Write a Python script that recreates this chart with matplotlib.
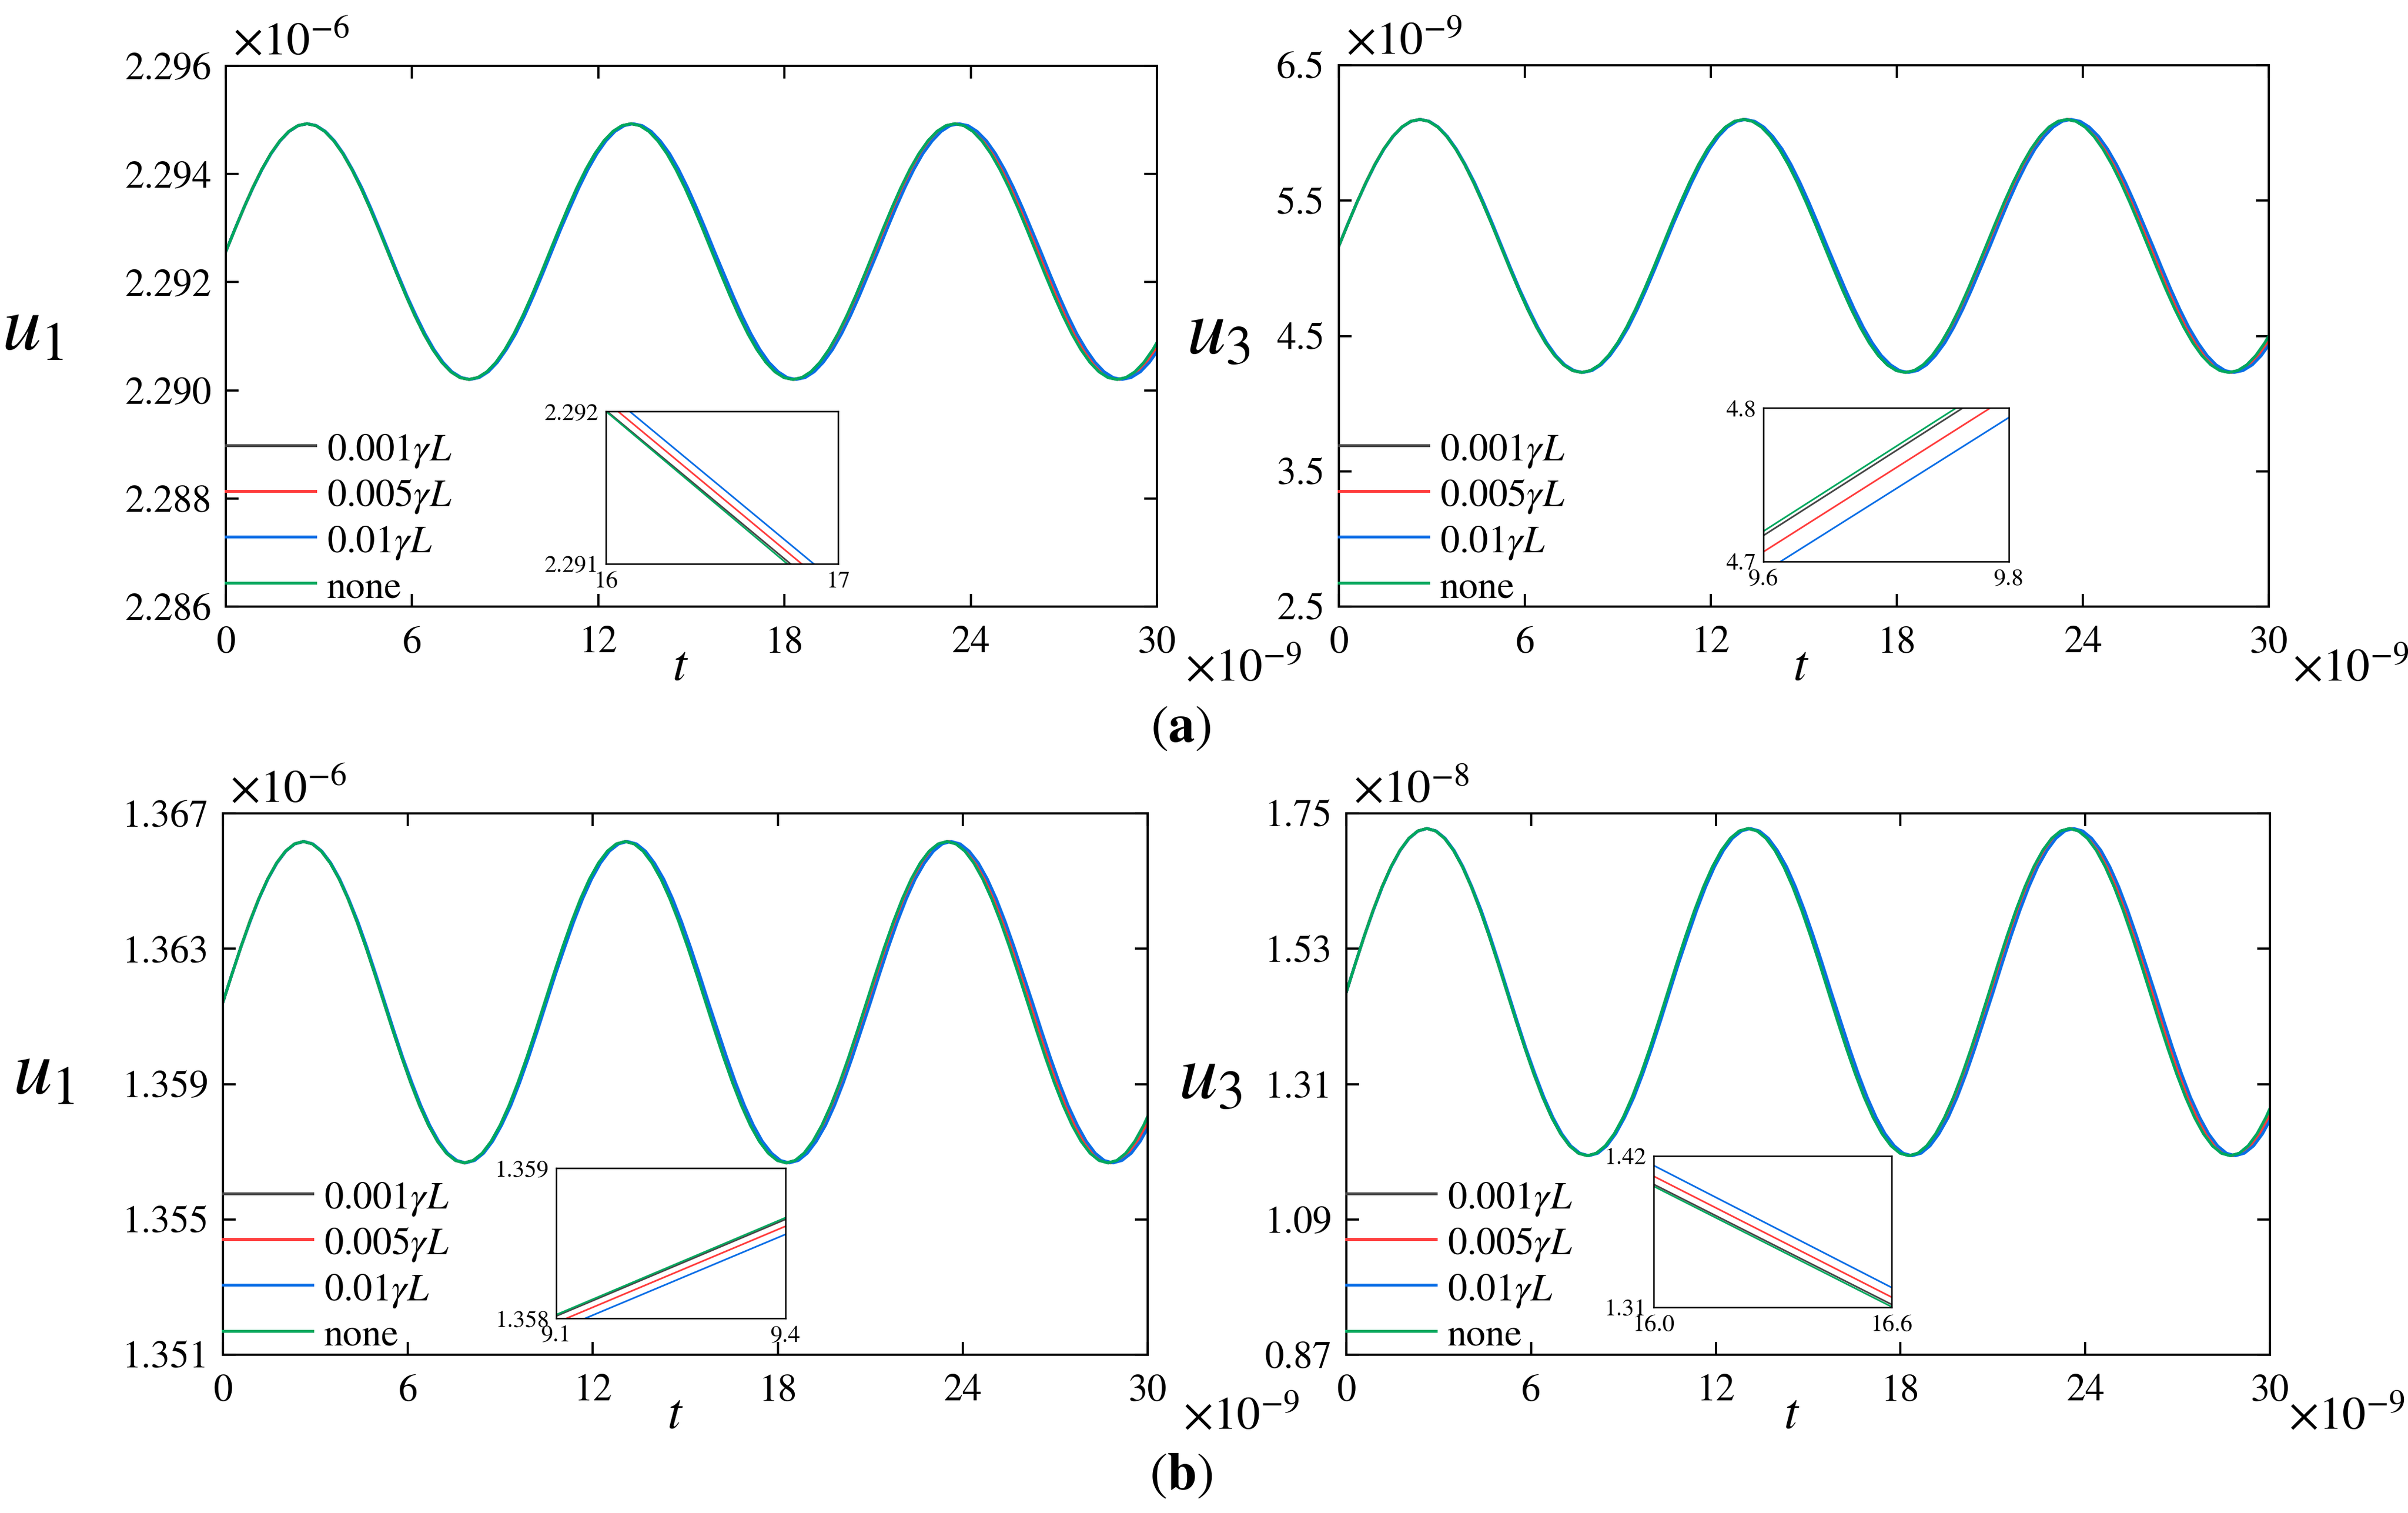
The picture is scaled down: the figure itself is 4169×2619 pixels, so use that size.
import numpy as np
import matplotlib
matplotlib.use('Agg')
import matplotlib.pyplot as plt

plt.rcParams['font.family'] = ['STIXGeneral', 'DejaVu Serif']
plt.rcParams['mathtext.fontset'] = 'stix'

W, H = 4169, 2619

# ---------------- data ----------------
# sample times (x1e-9) of the "none" curve
t_none = [0.00, 0.29, 0.58, 0.87, 1.16, 1.45, 1.74, 2.03, 2.32, 2.61, 2.90, 3.19, 3.48,
          3.77, 4.06, 4.35, 4.64, 4.93, 5.22, 5.51, 5.80, 6.09, 6.38, 6.67, 6.96, 7.25,
          7.54, 7.83, 8.12, 8.41, 8.70, 8.99, 9.28, 9.57, 9.86, 10.15, 10.44, 10.73,
          11.02, 11.31, 11.60, 11.89, 12.18, 12.47, 12.76, 13.05, 13.34, 13.63, 13.92,
          14.21, 14.50, 14.79, 15.08, 15.37, 15.66, 15.95, 16.24, 16.53, 16.82, 17.11,
          17.40, 17.69, 17.98, 18.27, 18.56, 18.85, 19.14, 19.43, 19.72, 20.01, 20.30,
          20.59, 20.88, 21.17, 21.46, 21.75, 22.04, 22.33, 22.62, 22.91, 23.20, 23.49,
          23.78, 24.07, 24.36, 24.65, 24.94, 25.23, 25.52, 25.81, 26.10, 26.39, 26.68,
          26.97, 27.26, 27.55, 27.84, 28.13, 28.42, 28.71, 29.00, 29.29, 29.58, 29.87,
          30.16]
# the same oscillation phases, reached slightly later by the damped cases
t_001 = [0.00, 0.29, 0.58, 0.87, 1.16, 1.45, 1.74, 2.03, 2.32, 2.61, 2.90, 3.19, 3.48,
         3.77, 4.06, 4.35, 4.64, 4.93, 5.22, 5.51, 5.80, 6.09, 6.38, 6.67, 6.96, 7.25,
         7.54, 7.83, 8.12, 8.42, 8.71, 9.00, 9.29, 9.58, 9.87, 10.16, 10.45, 10.74,
         11.03, 11.32, 11.61, 11.90, 12.19, 12.48, 12.77, 13.06, 13.35, 13.64, 13.93,
         14.22, 14.51, 14.80, 15.09, 15.38, 15.67, 15.96, 16.25, 16.54, 16.83, 17.12,
         17.41, 17.70, 17.99, 18.28, 18.57, 18.86, 19.15, 19.44, 19.73, 20.02, 20.31,
         20.60, 20.89, 21.18, 21.47, 21.76, 22.05, 22.34, 22.63, 22.92, 23.21, 23.50,
         23.79, 24.08, 24.37, 24.66, 24.95, 25.25, 25.54, 25.83, 26.12, 26.41, 26.70,
         26.99, 27.28, 27.57, 27.86, 28.15, 28.44, 28.73, 29.02, 29.31, 29.60, 29.89,
         30.18]
t_005 = [0.00, 0.29, 0.58, 0.87, 1.16, 1.45, 1.75, 2.04, 2.33, 2.62, 2.91, 3.20, 3.49,
         3.78, 4.07, 4.36, 4.65, 4.94, 5.24, 5.53, 5.82, 6.11, 6.40, 6.69, 6.98, 7.27,
         7.56, 7.85, 8.14, 8.44, 8.73, 9.02, 9.31, 9.60, 9.89, 10.18, 10.47, 10.76,
         11.05, 11.34, 11.63, 11.93, 12.22, 12.51, 12.80, 13.09, 13.38, 13.67, 13.96,
         14.25, 14.54, 14.83, 15.13, 15.42, 15.71, 16.00, 16.29, 16.58, 16.87, 17.16,
         17.45, 17.74, 18.03, 18.32, 18.62, 18.91, 19.20, 19.49, 19.78, 20.07, 20.36,
         20.65, 20.94, 21.23, 21.52, 21.82, 22.11, 22.40, 22.69, 22.98, 23.27, 23.56,
         23.85, 24.14, 24.43, 24.72, 25.01, 25.31, 25.60, 25.89, 26.18, 26.47, 26.76,
         27.05, 27.34, 27.63, 27.92, 28.21, 28.51, 28.80, 29.09, 29.38, 29.67, 29.96,
         30.25]
t_01 = [0.00, 0.29, 0.58, 0.88, 1.17, 1.46, 1.75, 2.04, 2.33, 2.63, 2.92, 3.21, 3.50,
        3.79, 4.08, 4.38, 4.67, 4.96, 5.25, 5.54, 5.83, 6.13, 6.42, 6.71, 7.00, 7.29,
        7.59, 7.88, 8.17, 8.46, 8.75, 9.04, 9.34, 9.63, 9.92, 10.21, 10.50, 10.79,
        11.09, 11.38, 11.67, 11.96, 12.25, 12.54, 12.84, 13.13, 13.42, 13.71, 14.00,
        14.30, 14.59, 14.88, 15.17, 15.46, 15.75, 16.05, 16.34, 16.63, 16.92, 17.21,
        17.50, 17.80, 18.09, 18.38, 18.67, 18.96, 19.25, 19.55, 19.84, 20.13, 20.42,
        20.71, 21.01, 21.30, 21.59, 21.88, 22.17, 22.46, 22.76, 23.05, 23.34, 23.63,
        23.92, 24.21, 24.51, 24.80, 25.09, 25.38, 25.67, 25.96, 26.26, 26.55, 26.84,
        27.13, 27.42, 27.72, 28.01, 28.30, 28.59, 28.88, 29.17, 29.47, 29.76, 30.05,
        30.34]
# normalised oscillation (-1 = trough, +1 = crest) at those sample times
u_shape = [0, .1736, .3420, .5, .6428, .7660, .8660, .9397, .9848, 1, .9848, .9397,
           .8660, .7660, .6428, .5, .3420, .1736, 0, -.1736, -.3420, -.5, -.6428, -.7660,
           -.8660, -.9397, -.9848, -1, -.9848, -.9397, -.8660, -.7660, -.6428, -.5,
           -.3420, -.1736,
           0, .1736, .3420, .5, .6428, .7660, .8660, .9397, .9848, 1, .9848, .9397,
           .8660, .7660, .6428, .5, .3420, .1736, 0, -.1736, -.3420, -.5, -.6428, -.7660,
           -.8660, -.9397, -.9848, -1, -.9848, -.9397, -.8660, -.7660, -.6428, -.5,
           -.3420, -.1736,
           0, .1736, .3420, .5, .6428, .7660, .8660, .9397, .9848, 1, .9848, .9397,
           .8660, .7660, .6428, .5, .3420, .1736, 0, -.1736, -.3420, -.5, -.6428, -.7660,
           -.8660, -.9397, -.9848, -1, -.9848, -.9397, -.8660, -.7660, -.6428]
# mean level and half-amplitude of each panel (axis units)
mid_a1, amp_a1 = 2.292565, 0.002365
mid_a3, amp_a3 = 5.165, 0.935
mid_b1, amp_b1 = 1.36142, 0.00475
mid_b3, amp_b3 = 1.4595, 0.266

series_labels = [r'$0.001\gamma L$', r'$0.005\gamma L$', r'$0.01\gamma L$', 'none']
series_times = [t_001, t_005, t_01, t_none]

x_ticks = [0, 6, 12, 18, 24, 30]
x_ticklabels = ['0', '6', '12', '18', '24', '30']
yt_a1 = [2.286, 2.288, 2.290, 2.292, 2.294, 2.296]
ytl_a1 = ['2.286', '2.288', '2.290', '2.292', '2.294', '2.296']
yt_a3 = [2.5, 3.5, 4.5, 5.5, 6.5]
ytl_a3 = ['2.5', '3.5', '4.5', '5.5', '6.5']
yt_b1 = [1.351, 1.355, 1.359, 1.363, 1.367]
ytl_b1 = ['1.351', '1.355', '1.359', '1.363', '1.367']
yt_b3 = [0.87, 1.09, 1.31, 1.53, 1.75]
ytl_b3 = ['0.87', '1.09', '1.31', '1.53', '1.75']

# insets: end points of each (straight) line segment inside the zoom window
ins_a1_t = [[16.005, 16.795], [16.052, 16.843], [16.102, 16.895], [16.0, 16.781]]
ins_a1_u = [[2.292, 2.291], [2.292, 2.291], [2.292, 2.291], [2.292, 2.291]]
ins_a3_t = [[9.6, 9.7626], [9.6, 9.785], [9.614, 9.8], [9.6, 9.7572]]
ins_a3_u = [[4.7169, 4.8], [4.7063, 4.8], [4.7, 4.7937], [4.7197, 4.8]]
ins_b1_t = [[9.1, 9.4], [9.1136, 9.4], [9.1381, 9.4], [9.1, 9.4]]
ins_b1_u = [[1.358015, 1.358659], [1.358, 1.358613], [1.358, 1.358559], [1.358024, 1.35867]]
ins_b3_t = [[16.0, 16.6], [16.0, 16.6], [16.0, 16.6], [16.0, 16.6]]
ins_b3_u = [[1.3994, 1.3121], [1.4053, 1.3174], [1.4131, 1.3244], [1.3980, 1.3104]]

# ---------------- styling / layout ----------------
colors = ['#464646', '#ff3c3c', '#0a6ee6', '#00a85e']

panels = [
    dict(rect=(391, 114, 2003, 1050), mid=mid_a1, amp=amp_a1, ylim=(2.286, 2.296),
         yt=yt_a1, ytl=ytl_a1, ylab=r'$u_1$', ylab_right=110, ylab_base=605,
         yoff=r'$\times10^{-6}$', xoff_dx=49, tx=0.488,
         inset=(1049, 712, 1451, 976), ixlim=(16, 17), iylim=(2.291, 2.292),
         ixl=['16', '17'], iyl=['2.291', '2.292'], it=ins_a1_t, iu=ins_a1_u),
    dict(rect=(2318, 113, 3928, 1050), mid=mid_a3, amp=amp_a3, ylim=(2.5, 6.5),
         yt=yt_a3, ytl=ytl_a3, ylab=r'$u_3$', ylab_right=2165, ylab_base=612,
         yoff=r'$\times10^{-9}$', xoff_dx=41, tx=0.497,
         inset=(3053, 706, 3478, 972), ixlim=(9.6, 9.8), iylim=(4.7, 4.8),
         ixl=['9.6', '9.8'], iyl=['4.7', '4.8'], it=ins_a3_t, iu=ins_a3_u),
    dict(rect=(386, 1408, 1987, 2345), mid=mid_b1, amp=amp_b1, ylim=(1.351, 1.367),
         yt=yt_b1, ytl=ytl_b1, ylab=r'$u_1$', ylab_right=129, ylab_base=1893,
         yoff=r'$\times10^{-6}$', xoff_dx=61, tx=0.489,
         inset=(963, 2022, 1360, 2282), ixlim=(9.1, 9.4), iylim=(1.358, 1.359),
         ixl=['9.1', '9.4'], iyl=['1.358', '1.359'], it=ins_b1_t, iu=ins_b1_u),
    dict(rect=(2331, 1408, 3930, 2345), mid=mid_b3, amp=amp_b3, ylim=(0.87, 1.75),
         yt=yt_b3, ytl=ytl_b3, ylab=r'$u_3$', ylab_right=2151, ylab_base=1901,
         yoff=r'$\times10^{-8}$', xoff_dx=32, tx=0.482,
         inset=(2863, 2001, 3275, 2263), ixlim=(16.0, 16.6), iylim=(1.31, 1.42),
         ixl=['16.0', '16.6'], iyl=['1.31', '1.42'], it=ins_b3_t, iu=ins_b3_u),
]

fig = plt.figure(figsize=(W / 300, H / 300), dpi=300)


def add_px_axes(l, t, r, b):
    return fig.add_axes([l / W, 1 - b / H, (r - l) / W, (b - t) / H])


shape = np.array(u_shape)
for p in panels:
    l, t, r, b = p['rect']
    wpx, hpx = r - l, b - t
    ax = add_px_axes(l, t, r, b)
    for ts, lab, c in zip(series_times, series_labels, colors):
        ax.plot(ts, p['mid'] + p['amp'] * shape, color=c, lw=1.2, label=lab)
    ax.set_xlim(0, 30)
    ax.set_xticks(x_ticks)
    ax.set_xticklabels(x_ticklabels)
    ax.set_ylim(*p['ylim'])
    ax.set_yticks(p['yt'])
    ax.set_yticklabels(p['ytl'])
    ax.tick_params(direction='in', top=True, right=True, length=5.3, width=0.9,
                   labelsize=16)
    ax.tick_params(axis='x', pad=8)
    ax.tick_params(axis='y', pad=6)
    for s in ax.spines.values():
        s.set_linewidth(0.9)
    ax.legend(loc='lower left', bbox_to_anchor=(0, 0), frameon=False, fontsize=16,
              handlelength=2.33, handletextpad=0.3, handleheight=1.0,
              labelspacing=0.16, borderpad=0, borderaxespad=0)
    ax.text((p['ylab_right'] - l) / wpx, 1 - (p['ylab_base'] - t) / hpx, p['ylab'],
            transform=ax.transAxes, fontsize=32.5, ha='right', va='baseline')
    ax.text(p['tx'], -127 / hpx, r'$t$', transform=ax.transAxes, fontsize=21,
            ha='center', va='baseline')
    ax.text(12 / wpx, 1 + 20 / hpx, p['yoff'], transform=ax.transAxes,
            fontsize=19.5, ha='left', va='baseline')
    ax.text(1 + p['xoff_dx'] / wpx, -128 / hpx, r'$\times10^{-9}$',
            transform=ax.transAxes, fontsize=19.5, ha='left', va='baseline')

    il, it, ir, ib = p['inset']
    ia = add_px_axes(il, it, ir, ib)
    for xs, ys, c in zip(p['it'], p['iu'], colors):
        ia.plot(xs, ys, color=c, lw=0.7)
    ia.set_xlim(*p['ixlim'])
    ia.set_ylim(*p['iylim'])
    ia.set_xticks(list(p['ixlim']))
    ia.set_xticklabels(p['ixl'])
    ia.set_yticks(list(p['iylim']))
    ia.set_yticklabels(p['iyl'])
    ia.tick_params(length=0, labelsize=10, pad=3)
    for s in ia.spines.values():
        s.set_linewidth(0.6)

fig.text(2044 / W, 1 - 1263 / H, r'$(\mathbf{a})$', fontsize=22, ha='center', va='center')
fig.text(2045 / W, 1 - 2557 / H, r'$(\mathbf{b})$', fontsize=22, ha='center', va='center')

fig.savefig('out.png', dpi=300)
